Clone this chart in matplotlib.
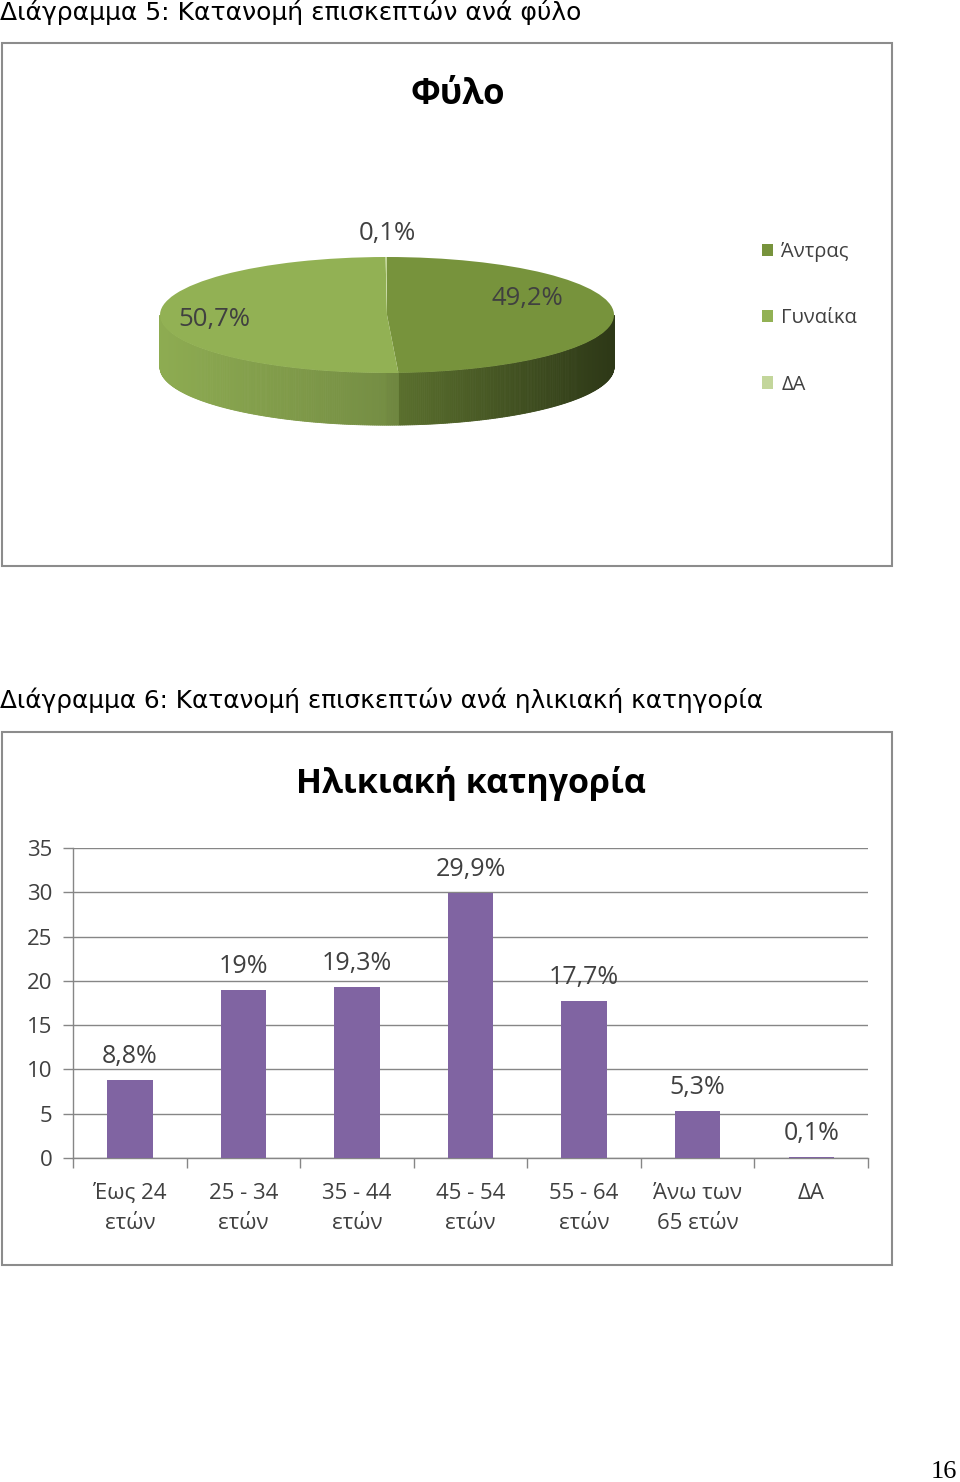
import numpy as np
import matplotlib
matplotlib.use("Agg")
import matplotlib.pyplot as plt
from matplotlib.patches import Rectangle, Polygon
from matplotlib.colors import to_rgb

# ---- data ----
gender_labels = ["Άντρας", "Γυναίκα", "ΔΑ"]
gender_values = [49.2, 50.7, 0.1]
gender_colors = ["#77933C", "#92B154", "#C3D69B"]

age_labels = ["Έως 24\nετών", "25 - 34\nετών", "35 - 44\nετών", "45 - 54\nετών",
              "55 - 64\nετών", "Άνω των\n65 ετών", "ΔΑ"]
age_values = [8.8, 19, 19.3, 29.9, 17.7, 5.3, 0.1]
age_ticks = [0, 5, 10, 15, 20, 25, 30, 35]

caption5 = "Διάγραμμα 5: Κατανομή επισκεπτών ανά φύλο"
caption6 = "Διάγραμμα 6: Κατανομή επισκεπτών ανά ηλικιακή κατηγορία"

W, H = 960, 1482
CHART_FONT = ["Open Sans", "DejaVu Sans"]
TEXT_COL = "#404040"


def fx(px):
    return px / W


def fy(py):
    return 1 - py / H


def px_axes(fig, x0, y0, x1, y1):
    # pixel box (top-left origin) -> figure axes
    return fig.add_axes([fx(x0), fy(y1), (x1 - x0) / W, (y1 - y0) / H])


def pct(v):
    return "{:g}".format(v).replace(".", ",") + "%"


def shade(color, f):
    r, g, b = to_rgb(color)
    return (r * f, g * f, b * f)


def main():
    fig = plt.figure(figsize=(W / 100, H / 100), dpi=100)

    # captions and page number
    fig.text(fx(0), fy(12), caption5, fontsize=18, family="DejaVu Sans",
             va="center", ha="left", color="black")
    fig.text(fx(0), fy(700), caption6, fontsize=17.8, family="DejaVu Sans",
             va="center", ha="left", color="black")
    fig.text(fx(957), fy(1472), "16", fontsize=19, family="Liberation Serif",
             va="center", ha="right")

    # chart frames
    for (x0, y0, x1, y1) in [(2, 43, 892, 566), (2, 732, 892, 1265)]:
        fig.patches.append(Rectangle((fx(x0), fy(y1)), (x1 - x0) / W, (y1 - y0) / H,
                                     transform=fig.transFigure, fill=False,
                                     edgecolor="#8c8c8c", linewidth=1.5))

    # ---- pie chart (3D look) ----
    fig.text(fx(458), fy(95), "Φύλο", fontsize=25, fontweight="bold",
             family=CHART_FONT, ha="center", va="center", color="black")

    cx, cy, a, b = 387, 315, 227, 58
    depth = 0.9
    ax = px_axes(fig, cx - 1.2 * a, cy - 1.3 * b, cx + 1.2 * a, cy + 2.2 * b)
    wedges, _ = ax.pie(gender_values, colors=gender_colors, startangle=90,
                       counterclock=False, radius=1,
                       wedgeprops=dict(linewidth=0))
    for w in wedges:
        w.set_zorder(3)
    ax.set_aspect("auto")
    ax.set_xlim(-1.2, 1.2)
    ax.set_ylim(-1 - depth - 0.3, 1.3)
    ax.axis("off")

    # side walls, from the same angles as the pie wedges
    total = sum(gender_values)
    start = 90.0
    for v, col in zip(gender_values, gender_colors):
        end = start - 360.0 * v / total
        ranges = []
        for shift in (0, 360):
            lo, hi = max(end + shift, -180.0), min(start + shift, 0.0)
            if hi > lo:
                ranges.append((lo, hi))
        for (t0, t1) in ranges:
            ts = np.linspace(t0, t1, max(2, int((t1 - t0) * 2)))
            for ta, tb in zip(ts[:-1], ts[1:]):
                ra, rb = np.radians(ta), np.radians(tb)
                c = np.cos((ra + rb) / 2)
                f = 0.78 - 0.40 * c if c > 0 else 0.80 - 0.17 * c
                poly = Polygon([(np.cos(ra), np.sin(ra)), (np.cos(rb), np.sin(rb)),
                                (np.cos(rb), np.sin(rb) - depth),
                                (np.cos(ra), np.sin(ra) - depth)],
                               closed=True, facecolor=shade(col, f),
                               edgecolor=shade(col, f), linewidth=0.6, zorder=2)
                ax.add_patch(poly)
        start = end

    label_pos = [(0.62, 0.29), (-0.76, -0.07), (0.0, 1.41)]
    for v, (lx, ly) in zip(gender_values, label_pos):
        ax.text(lx, ly, pct(v), fontsize=18.5, family=CHART_FONT, color=TEXT_COL,
                ha="center", va="center", zorder=5)

    fig.legend(wedges, gender_labels, loc="upper left",
               bbox_to_anchor=(fx(762), fy(242)), frameon=False,
               prop=dict(family=CHART_FONT, size=14.5), labelcolor=TEXT_COL,
               handlelength=0.55, handleheight=0.55, handletextpad=0.4,
               labelspacing=2.3, borderpad=0, borderaxespad=0)

    # ---- bar chart ----
    fig.text(fx(471), fy(783), "Ηλικιακή κατηγορία", fontsize=24.5, fontweight="bold",
             family=CHART_FONT, ha="center", va="center", color="black")

    bx = px_axes(fig, 73, 848, 868, 1158)
    x = np.arange(len(age_values))
    bars = bx.bar(x, age_values, width=0.4, color="#8064A2", zorder=3)
    bx.bar_label(bars, labels=[pct(v) for v in age_values], padding=8,
                 fontsize=18, family=CHART_FONT, color=TEXT_COL)
    bx.set_xlim(-0.5, len(age_values) - 0.5)
    bx.set_ylim(0, 35)
    bx.set_yticks(age_ticks)
    bx.set_yticklabels([str(t) for t in age_ticks], fontsize=16, family=CHART_FONT,
                       color=TEXT_COL)
    bx.set_xticks(x)
    bx.set_xticklabels(age_labels, fontsize=16, family=CHART_FONT, color=TEXT_COL,
                       linespacing=1.55)
    bx.set_xticks(np.arange(len(age_values) + 1) - 0.5, minor=True)
    bx.tick_params(axis="x", which="major", length=0, pad=18)
    bx.tick_params(axis="x", which="minor", length=7, color="#868686", width=1,
                   direction="out")
    bx.tick_params(axis="y", length=7, color="#868686", width=1, pad=8)
    bx.grid(axis="y", color="#868686", linewidth=1, zorder=0)
    bx.set_axisbelow(True)
    for s in ["top", "right"]:
        bx.spines[s].set_visible(False)
    for s in ["left", "bottom"]:
        bx.spines[s].set_color("#868686")
        bx.spines[s].set_linewidth(1)

    fig.savefig("out.png", dpi=100)


if __name__ == "__main__":
    main()
